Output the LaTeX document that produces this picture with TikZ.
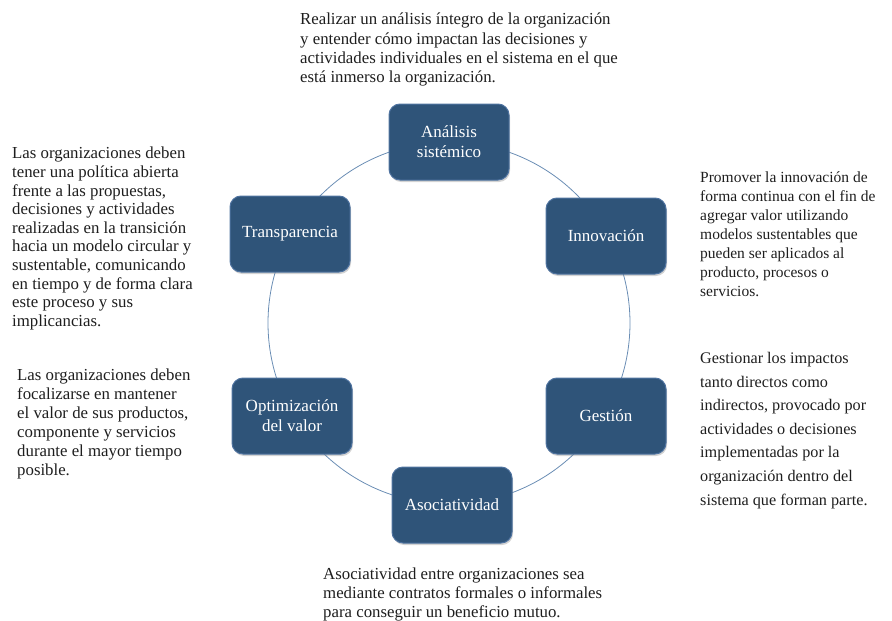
\documentclass[tikz,border=0pt]{standalone}
\usepackage{fontspec}
\setmainfont{Liberation Serif}
\usetikzlibrary{positioning,shadows}
\definecolor{boxblue}{HTML}{2F5479}
\definecolor{boxedge}{HTML}{4F73A0}
\definecolor{ringblue}{HTML}{6A8DB4}
\definecolor{txtgray}{HTML}{1E1E1E}

\begin{document}
\begin{tikzpicture}[x=1pt,y=-1pt,
  stagebox/.style={draw=boxedge,line width=1pt,fill=boxblue,rounded corners=11pt,
    minimum width=120pt,minimum height=76pt,text=white,align=center,
    font=\fontsize{17}{20}\selectfont,
    drop shadow={opacity=0.35,shadow xshift=1pt,shadow yshift=-2pt}},
  note/.style={anchor=north west,inner sep=0pt,align=left,text=txtgray,
    font=\fontsize{16.8}{19}\selectfont}]
  \useasboundingbox (0,0) rectangle (892,621);
  \coordinate (c) at (449,323);
  \draw[ringblue,line width=0.8pt] (c) circle [radius=181pt];
  % the six stages round the ring
  \node[stagebox] (ana) at (449,142) {Análisis\\sistémico};
  \node[stagebox] (inn) at (606,236) {Innovación};
  \node[stagebox] (ges) at (606,416) {Gestión};
  \node[stagebox] (aso) at (452,505) {Asociatividad};
  \node[stagebox] (opt) at (292,416) {Optimización\\del valor};
  \node[stagebox] (tra) at (290,234) {Transparencia};
  % notes
  \node[note,font=\fontsize{16.8}{19.3}\selectfont] (t_ana) at (300,13) {Realizar un análisis íntegro de la organización\\
    y entender cómo impactan las decisiones y\\
    actividades individuales en el sistema en el que\\
    está inmerso la organización.};
  \node[note,font=\fontsize{15.5}{19}\selectfont] (t_inn) at (700,172) {Promover la innovación de\\
    forma continua con el fin de\\
    agregar valor utilizando\\
    modelos sustentables que\\
    pueden ser aplicados al\\
    producto, procesos o\\
    servicios.};
  \node[note,font=\fontsize{16.2}{23.6}\selectfont] (t_ges) at (700,352) {Gestionar los impactos\\
    tanto directos como\\
    indirectos, provocado por\\
    actividades o decisiones\\
    implementadas por la\\
    organización dentro del\\
    sistema que forman parte.};
  \node[note,font=\fontsize{16.8}{18.6}\selectfont] (t_aso) at (323,568) {Asociatividad entre organizaciones sea\\
    mediante contratos formales o informales\\
    para conseguir un beneficio mutuo.};
  \node[note] (t_opt) at (17,369) {Las organizaciones deben\\
    focalizarse en mantener\\
    el valor de sus productos,\\
    componente y servicios\\
    durante el mayor tiempo\\
    posible.};
  \node[note,font=\fontsize{16.8}{18.6}\selectfont] (t_tra) at (12,147) {Las organizaciones deben\\
    tener una política abierta\\
    frente a las propuestas,\\
    decisiones y actividades\\
    realizadas en la transición\\
    hacia un modelo circular y\\
    sustentable, comunicando\\
    en tiempo y de forma clara\\
    este proceso y sus\\
    implicancias.};
\end{tikzpicture}
\end{document}
